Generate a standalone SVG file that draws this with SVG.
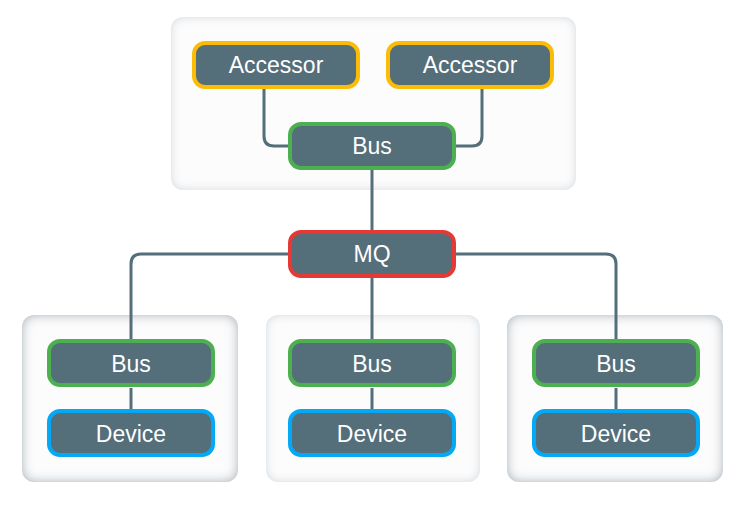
<svg xmlns="http://www.w3.org/2000/svg" width="746" height="505" viewBox="0 0 746 505">
<defs>
<filter id="insetDark" x="-10%" y="-10%" width="120%" height="120%">
<feComponentTransfer in="SourceAlpha" result="inv"><feFuncA type="table" tableValues="1 0"/></feComponentTransfer>
<feGaussianBlur in="inv" stdDeviation="6" result="blur"/>
<feFlood flood-color="#98a6ae" result="col"/>
<feComposite in="col" in2="blur" operator="in" result="sh"/>
<feComposite in="sh" in2="SourceAlpha" operator="in" result="shin"/>
<feMerge><feMergeNode in="SourceGraphic"/><feMergeNode in="shin"/></feMerge>
</filter>
<filter id="insetLight" x="-10%" y="-10%" width="120%" height="120%">
<feComponentTransfer in="SourceAlpha" result="inv"><feFuncA type="table" tableValues="1 0"/></feComponentTransfer>
<feGaussianBlur in="inv" stdDeviation="5" result="blur"/>
<feFlood flood-color="#cfd7db" result="col"/>
<feComposite in="col" in2="blur" operator="in" result="sh"/>
<feComposite in="sh" in2="SourceAlpha" operator="in" result="shin"/>
<feMerge><feMergeNode in="SourceGraphic"/><feMergeNode in="shin"/></feMerge>
</filter>
</defs>
<style>
.box{fill:#fcfcfd;}
.dark{filter:url(#insetDark);}
.light{filter:url(#insetLight);}
.node{fill:#546e7a;stroke-width:4;}
.acc{stroke:#fbbc08;}
.bus{stroke:#4caf50;}
.mq{stroke:#e53935;}
.dev{stroke:#03a9f4;}
.lbl{font-family:"Liberation Sans",Arial,sans-serif;font-size:23px;fill:#ffffff;text-anchor:middle;}
.con{fill:none;stroke:#546e7a;stroke-width:3;}
</style>
<rect width="746" height="505" fill="#ffffff"/>
<g id="containers">
<rect class="box light" x="171" y="17" width="405" height="173" rx="12"/>
<rect class="box dark" x="22" y="315" width="216" height="167" rx="12"/>
<rect class="box light" x="266" y="315" width="214" height="167" rx="12"/>
<rect class="box dark" x="507" y="315" width="216" height="167" rx="12"/>
</g>
<g id="connectors">
<path class="con" d="M264,89 V136 Q264,146 274,146 H290"/>
<path class="con" d="M482,89 V136 Q482,146 472,146 H455"/>
<path class="con" d="M372,170 V230"/>
<path class="con" d="M290,254 H141 Q131,254 131,264 V339"/>
<path class="con" d="M455,254 H606 Q616,254 616,264 V339"/>
<path class="con" d="M372,278 V339"/>
<path class="con" d="M131,388 V409"/>
<path class="con" d="M372,388 V409"/>
<path class="con" d="M616,388 V409"/>
</g>
<g id="accessor1"><rect class="node acc" x="194" y="43" width="164" height="44" rx="11"/><text class="lbl" x="276" y="73">Accessor</text></g>
<g id="accessor2"><rect class="node acc" x="388" y="43" width="164" height="44" rx="11"/><text class="lbl" x="470" y="73">Accessor</text></g>
<g id="bus-top"><rect class="node bus" x="290" y="124" width="164" height="44" rx="11"/><text class="lbl" x="372" y="154">Bus</text></g>
<g id="mq"><rect class="node mq" x="290" y="232" width="164" height="44" rx="11"/><text class="lbl" x="372" y="262">MQ</text></g>
<g id="bus-left"><rect class="node bus" x="49" y="341" width="164" height="44" rx="11"/><text class="lbl" x="131" y="372">Bus</text></g>
<g id="device-left"><rect class="node dev" x="49" y="411" width="164" height="44" rx="11"/><text class="lbl" x="131" y="442">Device</text></g>
<g id="bus-mid"><rect class="node bus" x="290" y="341" width="164" height="44" rx="11"/><text class="lbl" x="372" y="372">Bus</text></g>
<g id="device-mid"><rect class="node dev" x="290" y="411" width="164" height="44" rx="11"/><text class="lbl" x="372" y="442">Device</text></g>
<g id="bus-right"><rect class="node bus" x="534" y="341" width="164" height="44" rx="11"/><text class="lbl" x="616" y="372">Bus</text></g>
<g id="device-right"><rect class="node dev" x="534" y="411" width="164" height="44" rx="11"/><text class="lbl" x="616" y="442">Device</text></g>
</svg>
